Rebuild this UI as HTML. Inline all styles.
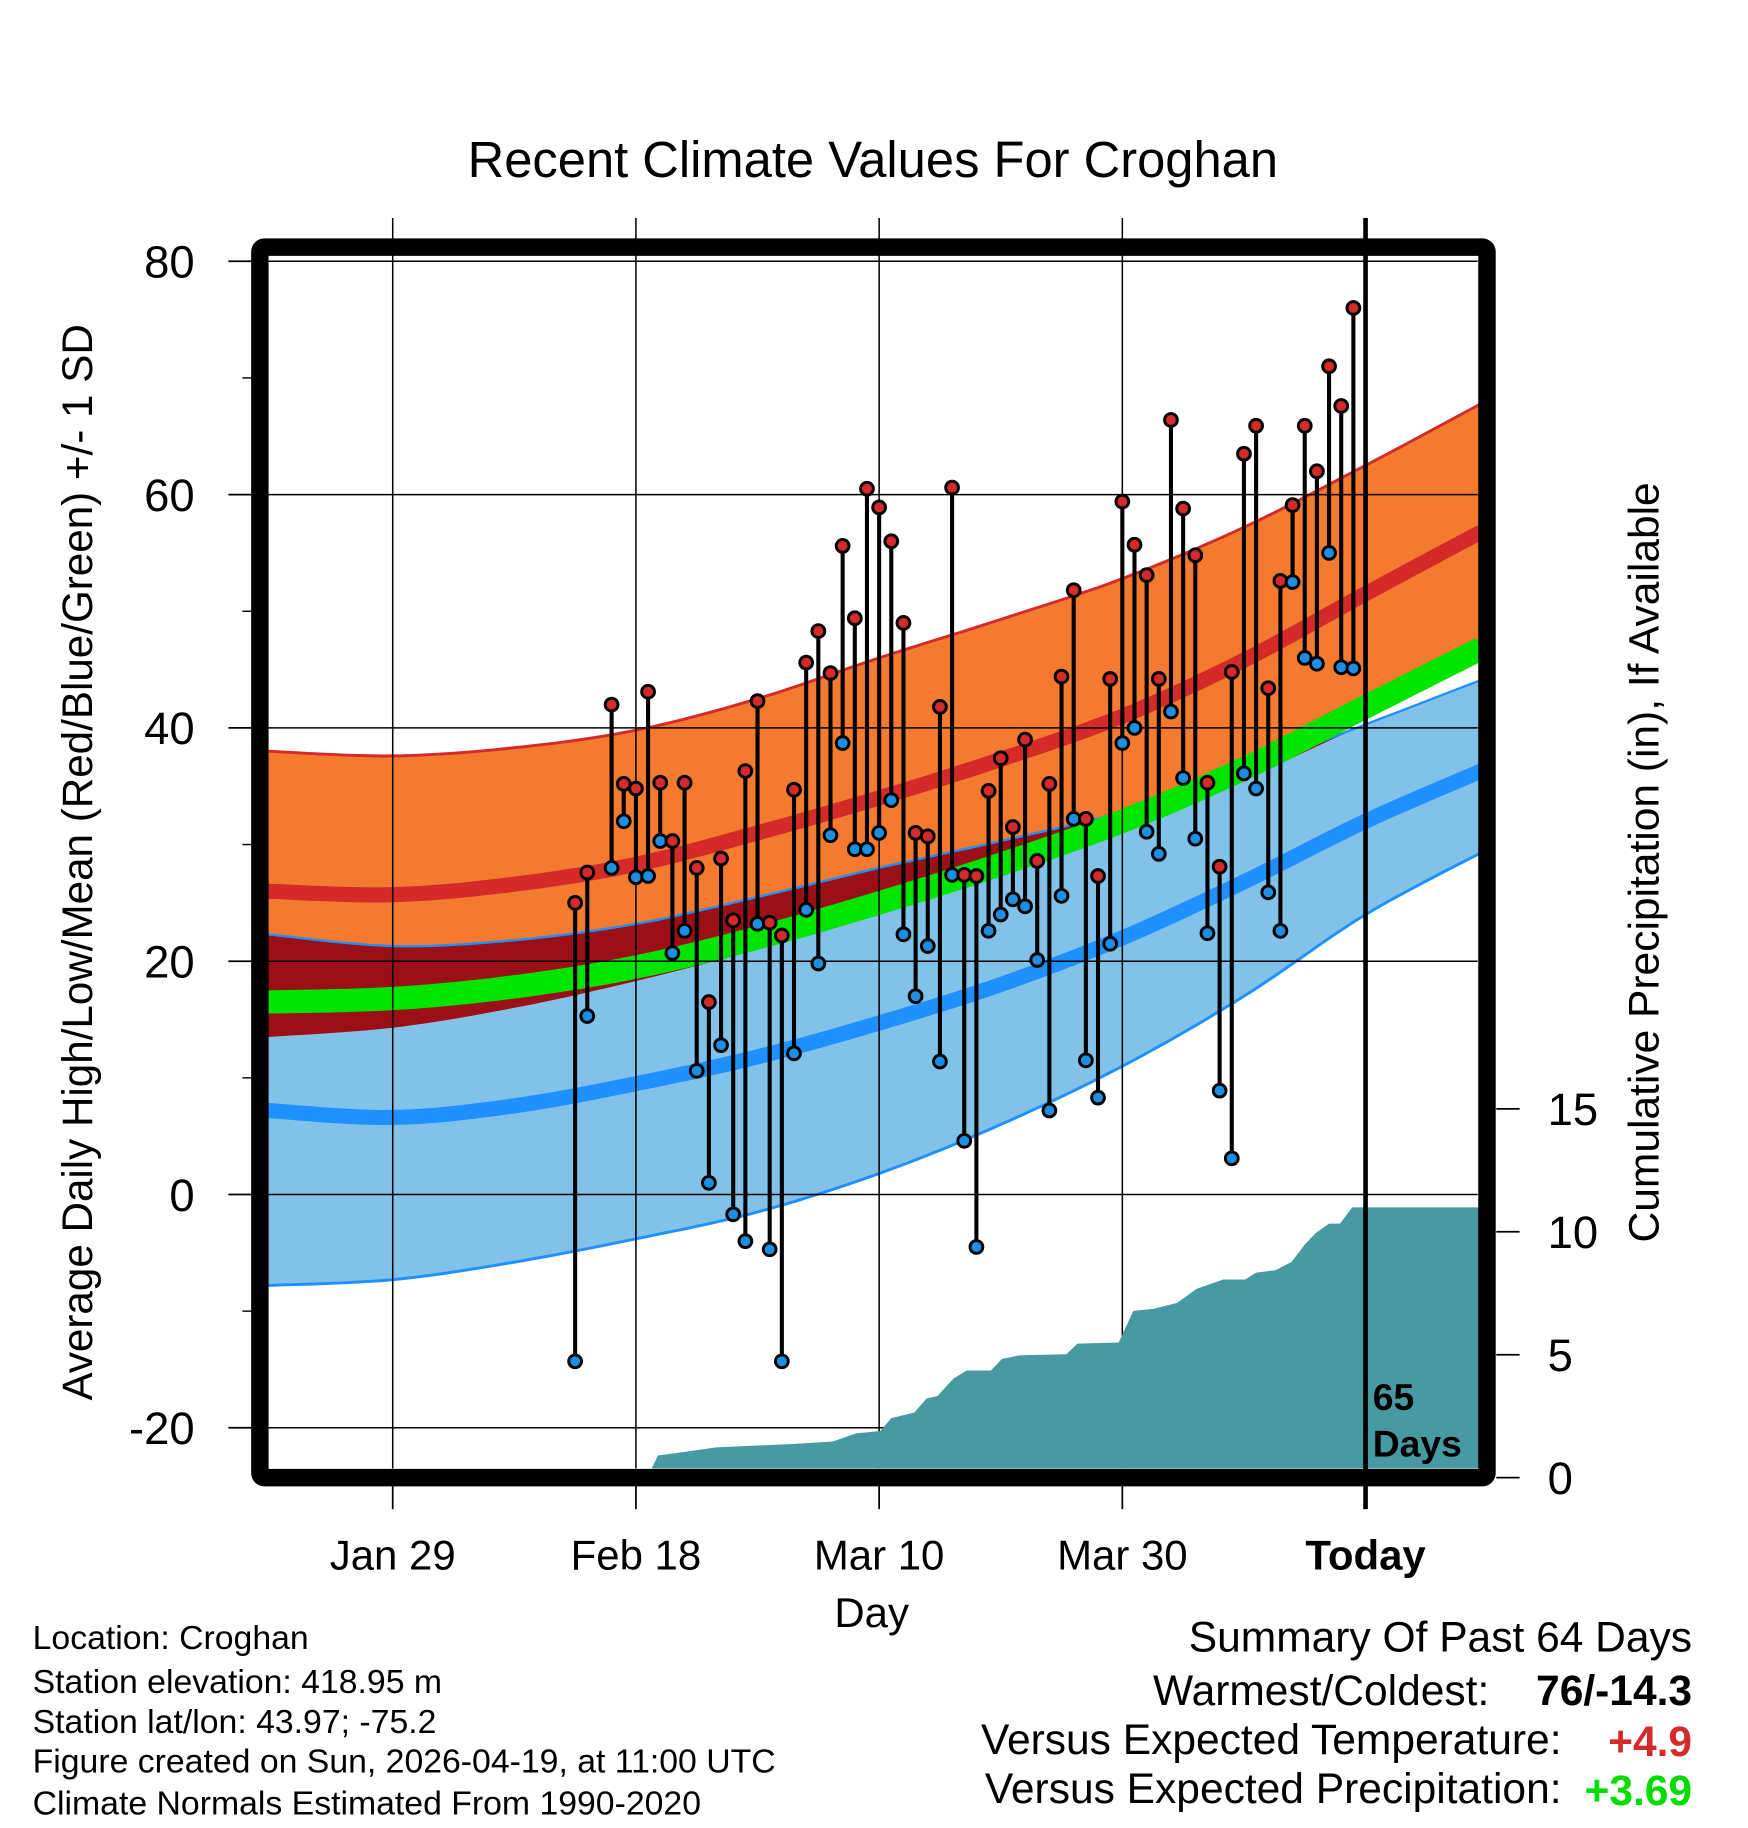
<!DOCTYPE html>
<html><head><meta charset="utf-8"><style>
html,body{margin:0;padding:0;background:#fff;}
svg{display:block;font-family:"Liberation Sans",Arial,sans-serif;}
</style></head><body>
<svg id="chart" width="1748" height="1828" viewBox="0 0 1500 1568.6" xmlns="http://www.w3.org/2000/svg">
<text x="749" y="152" font-size="43.5" text-anchor="middle">Recent Climate Values For Croghan</text>
<g id="bands"></g>
<g id="grid"></g>
<g id="precip"></g>
<g id="obs"></g>
<g id="axes"></g>
<text transform="translate(79,740) rotate(-90)" font-size="36.2" text-anchor="middle">Average Daily High/Low/Mean (Red/Blue/Green) +/- 1 SD</text>
<text transform="translate(1423,740) rotate(-90)" font-size="36.5" text-anchor="middle">Cumulative Precipitation (in), If Available</text>
<text x="748" y="1396" font-size="36" text-anchor="middle">Day</text>
<text x="1178" y="1210" font-size="32" font-weight="bold">65</text>
<text x="1178" y="1250" font-size="32" font-weight="bold">Days</text>
<g font-size="29">
<text x="28" y="1415">Location: Croghan</text>
<text x="28" y="1453">Station elevation: 418.95 m</text>
<text x="28" y="1487">Station lat/lon: 43.97; -75.2</text>
<text x="28" y="1521">Figure created on Sun, 2026-04-19, at 11:00 UTC</text>
<text x="28" y="1557">Climate Normals Estimated From 1990-2020</text>
</g>
<g font-size="36.5">
<text x="1452" y="1417" text-anchor="end">Summary Of Past 64 Days</text>
<text x="1278" y="1463" text-anchor="end">Warmest/Coldest:</text>
<text x="1452" y="1463" text-anchor="end" font-weight="bold">76/-14.3</text>
<text x="1340" y="1505" text-anchor="end">Versus Expected Temperature:</text>
<text x="1452" y="1507" text-anchor="end" font-weight="bold" fill="#d42a2a">+4.9</text>
<text x="1340" y="1547" text-anchor="end">Versus Expected Precipitation:</text>
<text x="1452" y="1549" text-anchor="end" font-weight="bold" fill="#00dd00">+3.69</text>
</g>
</svg>
<script>
// normals (day offset from Jan 29)
const normDays = [-10.3,0,10,20,30,40,50,60,70,80,89.5];
const highUpper = [38,37.6,38.3,39.8,42.5,46,49.3,52.8,57.2,62.5,67.8];
const highMean = [26,25.7,26.6,28.3,31,34,37.3,41,45.8,51.5,56.8];
const highLower = [13.5,14.3,16,18.3,21,24,27.3,31,35.5,41,46.2];
const avgMean = [16.5,16.8,17.8,19.5,22,25,28.3,32,36.5,41.8,46.8];
const lowUpper = [22.3,21.3,21.8,23.2,25.5,28,30.3,32.8,36.3,40.3,44.1];
const lowMean = [7.2,6.6,7.6,9.5,11.8,14.7,18,22,26.8,32,36.3];
const lowLower = [-7.8,-7.3,-5.8,-3.8,-1.5,1.8,6,11,17,24,29.3];
// observations
const obsDays = [15,16,18,19,20,21,22,23,24,25,26,27,28,29,30,31,32,33,34,35,36,37,38,39,40,41,42,43,44,45,46,47,48,49,50,51,52,53,54,55,56,57,58,59,60,61,62,63,64,65,66,67,68,69,70,71,72,73,74,75,76,77,78,79];
const obsHigh = [25,27.6,42,35.2,34.8,43.1,35.3,30.3,35.3,28,16.5,28.8,23.5,36.3,42.3,23.3,22.2,34.7,45.6,48.3,44.7,55.6,49.4,60.5,58.9,56,49,31,30.7,41.8,60.6,27.4,27.3,34.6,37.4,31.5,39,28.6,35.2,44.4,51.8,32.2,27.3,44.2,59.4,55.7,53.1,44.2,66.4,58.8,54.8,35.3,28.1,44.8,63.5,65.9,43.4,52.6,59.1,65.9,62,71,67.6,76];
const obsLow = [-14.3,15.3,28,32,27.2,27.3,30.3,20.7,22.6,10.6,1,12.8,-1.7,-4,23.2,-4.7,-14.3,12.1,24.4,19.8,30.8,38.7,29.6,29.6,31,33.8,22.3,17,21.3,11.4,27.4,4.6,-4.5,22.6,24,25.3,24.7,20.1,7.2,25.6,32.2,11.5,8.3,21.5,38.7,40,31.1,29.2,41.4,35.7,30.5,22.4,8.9,3.1,36.1,34.8,25.9,22.6,52.5,46,45.5,55,45.2,45.1];
// cumulative precipitation
const precipDays = [21.3,21.8,23.3,26.6,32.9,36.2,38.1,40.1,41,42.9,43.9,44.8,46.1,47.2,49.2,50.1,51.6,55.4,56.3,59.7,60.9,62.6,64.5,66.1,68.3,70.1,71,72.6,73.9,75,75.9,77,77.9,78.9,89.5];
const precipIn = [0,0.9,1.0,1.23,1.37,1.47,1.8,1.9,2.42,2.65,3.22,3.32,4.03,4.36,4.36,4.83,4.98,5.02,5.45,5.5,6.78,6.87,7.11,7.68,8.06,8.06,8.34,8.44,8.77,9.48,9.95,10.33,10.33,10.99,10.99];
const yTicks = [80,60,40,20,0,-20];
const y2Ticks = [0,5,10,15];
const xTickDays = [0,20,40,60,80];
const xTickLabels = ["Jan 29","Feb 18","Mar 10","Mar 30","Today"];

const NS="http://www.w3.org/2000/svg";
const X0=230,X1=1268,Y0=222,Y1=1260;
const xs=d=>337+10.435*d;
const ys=v=>1025-10.01*v;
const yp=v=>1268-21.1*v;
function mk(tag,attrs,parent){const e=document.createElementNS(NS,tag);for(const k in attrs)e.setAttribute(k,attrs[k]);parent.appendChild(e);return e;}
const bands=document.getElementById('bands'),grid=document.getElementById('grid'),precip=document.getElementById('precip'),obs=document.getElementById('obs'),axes=document.getElementById('axes');
// Catmull-Rom smoothing of normal curves
function smooth(arr){
  const out=[];const n=normDays.length;
  for(let i=0;i<n-1;i++){
    const p0=i>0?i-1:i,p3=i+2<n?i+2:i+1;
    const xa=[normDays[p0],normDays[i],normDays[i+1],normDays[p3]];
    const ya=[arr[p0],arr[i],arr[i+1],arr[p3]];
    const steps=12;
    for(let s=0;s<steps;s++){
      const t=s/steps,t2=t*t,t3=t2*t;
      const f=(a)=>0.5*((2*a[1])+(-a[0]+a[2])*t+(2*a[0]-5*a[1]+4*a[2]-a[3])*t2+(-a[0]+3*a[1]-3*a[2]+a[3])*t3);
      out.push([f(xa),f(ya)]);
    }
  }
  out.push([normDays[n-1],arr[n-1]]);
  return out;
}
function pts(arr){return smooth(arr).map(p=>xs(p[0]).toFixed(1)+','+ys(p[1]).toFixed(1));}
function band(up,lo,fill,name){
  const p=pts(up).concat(pts(lo).reverse()).join(' ');
  const e=mk('polygon',{points:p,fill:fill},bands);
  
  
}
function line(arr,color,w,name){
  const e=mk('polyline',{points:pts(arr).join(' '),fill:'none',stroke:color,'stroke-width':w},bands);
  
  
}
band(lowUpper,lowLower,'#82c2e8','low-sd-band');
band(highUpper,highLower,'#f47a30','high-sd-band');
const ovTop=normDays.map((d,i)=>Math.min(highUpper[i],lowUpper[i]));
const ovBot=normDays.map((d,i)=>Math.min(Math.max(highLower[i],lowLower[i]),ovTop[i]));
band(ovTop,ovBot,'#9b1016','overlap-band');
line(highUpper,'#d42a2a',2.5,'high-upper-edge');
line(lowUpper,'#1e90ff',2,'low-upper-edge');
line(lowLower,'#1e90ff',2.5,'low-lower-edge');
line(highMean,'#d42a2a',13,'high-mean-line');
line(avgMean,'#00e400',20,'mean-line');
line(lowMean,'#1e90ff',13,'low-mean-line');
// grid
yTicks.forEach(v=>{const e=mk('line',{x1:X0,x2:X1,y1:ys(v),y2:ys(v),stroke:'#000','stroke-width':1.3},grid);

});
xTickDays.forEach(d=>{const e=mk('line',{x1:xs(d),x2:xs(d),y1:187,y2:Y1,stroke:'#000','stroke-width':1.3},grid);

});
// precip
let pp=precipDays.map((d,i)=>xs(d).toFixed(1)+','+Math.min(Y1,yp(precipIn[i])).toFixed(1));
pp.push(xs(precipDays[precipDays.length-1]).toFixed(1)+','+Y1);
pp.push(xs(precipDays[0]).toFixed(1)+','+Y1);
const pa=mk('polygon',{points:pp.join(' '),fill:'#4799a2'},precip);


// observations
obsDays.forEach((d,i)=>{
  const x=xs(d);
  const s=mk('line',{x1:x,x2:x,y1:ys(obsHigh[i]),y2:ys(obsLow[i]),stroke:'#000','stroke-width':3.5},obs);
  
  
});
obsDays.forEach((d,i)=>{
  const x=xs(d);
  const h=mk('circle',{cx:x,cy:ys(obsHigh[i]),r:5.5,fill:'#d42a2a',stroke:'#000','stroke-width':2.5},obs);
  
  
  const l=mk('circle',{cx:x,cy:ys(obsLow[i]),r:5.5,fill:'#1e8fe0',stroke:'#000','stroke-width':2.5},obs);
  
  
});
// today line
const tl=mk('line',{x1:xs(80),x2:xs(80),y1:187,y2:1295,stroke:'#000','stroke-width':4},axes);


// frame
const fr=mk('rect',{x:223,y:212,width:1053,height:1056,rx:4,fill:'none',stroke:'#000','stroke-width':15},axes);


// y ticks
yTicks.forEach(v=>{
  const t=mk('line',{x1:196,x2:216,y1:ys(v),y2:ys(v),stroke:'#000','stroke-width':1.5},axes);
  
  
  if(v>-20){
    const m=mk('line',{x1:208,x2:216,y1:ys(v-10),y2:ys(v-10),stroke:'#000','stroke-width':1.2},axes);
    
    
  }
  const tx=mk('text',{x:167,y:ys(v)+14,'font-size':39,'text-anchor':'end'},axes);
  tx.textContent=v;
  
  
});
y2Ticks.forEach(v=>{
  const t=mk('line',{x1:1284,x2:1304,y1:yp(v),y2:yp(v),stroke:'#000','stroke-width':1.5},axes);
  
  
  const tx=mk('text',{x:1328,y:yp(v)+14,'font-size':39},axes);
  tx.textContent=v;
  
  
});
xTickDays.forEach((d,i)=>{
  const t=mk('line',{x1:xs(d),x2:xs(d),y1:1275,y2:1295,stroke:'#000','stroke-width':1.5},axes);
  
  
  const tx=mk('text',{x:xs(d),y:1347,'font-size':36,'text-anchor':'middle'},axes);
  if(xTickLabels[i]==='Today')tx.setAttribute('font-weight','bold');
  tx.textContent=xTickLabels[i];
  
  
});
</script>
</body></html>
